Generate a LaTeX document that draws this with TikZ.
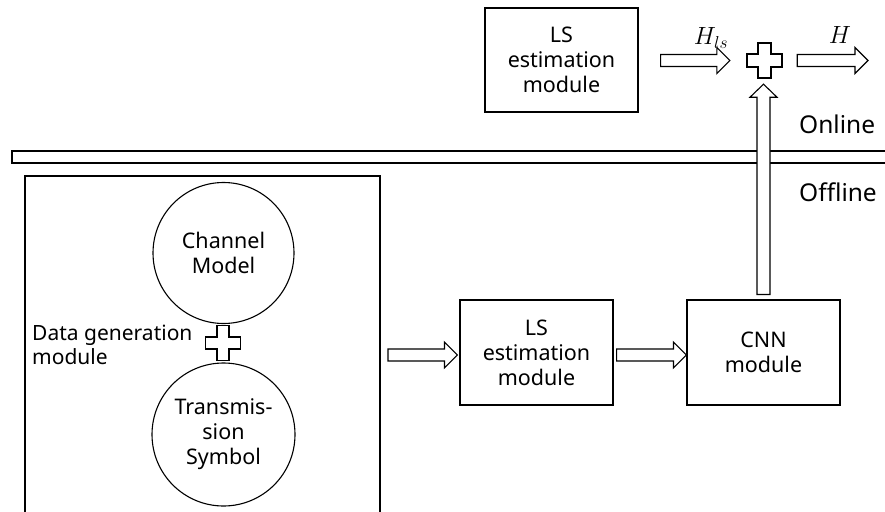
\documentclass[tikz,border=0pt]{standalone}
\usepackage{fontspec}
\setmainfont{Noto Sans}
\usetikzlibrary{calc}
\tikzset{
  box/.style={draw, line width=1.1pt, align=center, font=\fontsize{21.5}{25}\selectfont, inner sep=0pt},
  circ/.style={draw, circle, line width=1.1pt, align=center, font=\fontsize{21.5}{25}\selectfont, inner sep=0pt, minimum size=141pt},
  blk/.style={draw, line width=1.1pt, fill=white, line join=miter},
  lbl/.style={font=\fontsize{21}{24}\selectfont, inner sep=0pt},
  mlbl/.style={font=\fontsize{24}{28}\selectfont, inner sep=0pt},
  side/.style={font=\fontsize{24.5}{28}\selectfont, inner sep=0pt, anchor=base west}
}
% horizontal block arrow from #1 to #2 (y taken from #1)
\newcommand\hblock[2]{%
  \path let \p1=#1, \p2=#2 in
    [blk] (\x1,\y1-6pt) -- (\x2-13pt,\y1-6pt) -- (\x2-13pt,\y1-13pt) -- (\x2,\y1)
      -- (\x2-13pt,\y1+13pt) -- (\x2-13pt,\y1+6pt) -- (\x1,\y1+6pt) -- cycle;}
% vertical block arrow (upwards) from #1 to #2 (x taken from #1)
\newcommand\vblock[2]{%
  \path let \p1=#1, \p2=#2 in
    [blk] (\x1-6.5pt,\y1) -- (\x1-6.5pt,\y2-13pt) -- (\x1-13.5pt,\y2-13pt) -- (\x1,\y2)
      -- (\x1+13.5pt,\y2-13pt) -- (\x1+6.5pt,\y2-13pt) -- (\x1+6.5pt,\y1) -- cycle;}
% plus shape around node #1, half size #2, half arm #3
\newcommand\plusshape[3]{%
  \path let \p1=(#1.center) in
    [blk] (\x1-#3,\y1+#2) -- (\x1+#3,\y1+#2) -- (\x1+#3,\y1+#3) -- (\x1+#2,\y1+#3)
      -- (\x1+#2,\y1-#3) -- (\x1+#3,\y1-#3) -- (\x1+#3,\y1-#2) -- (\x1-#3,\y1-#2)
      -- (\x1-#3,\y1-#3) -- (\x1-#2,\y1-#3) -- (\x1-#2,\y1+#3) -- (\x1-#3,\y1+#3) -- cycle;}
\begin{document}
\begin{tikzpicture}[x=1pt,y=-1pt]
\clip (0,0) rectangle (885,511);
\fill[white] (0,0) rectangle (885,511);

% separator bar
\draw[line width=1.1pt] (12,151) rectangle (895,163);

% online part
\node[box, minimum width=153pt, minimum height=104pt] (lstop) at (561.5,60) {LS\\estimation\\module};
\node[minimum size=35pt, inner sep=0pt] (plustop) at (764.5,60.5) {};
\plusshape{plustop}{17.5pt}{6.5pt}
\coordinate (hout) at (868,60.5);

% offline part
\draw[line width=1.1pt] (25,520) -- (25,176) -- (380,176) -- (380,520);
\node[box, minimum width=153pt, minimum height=105pt] (lsbot) at (536.5,352.5) {LS\\estimation\\module};
\node[box, minimum width=153pt, minimum height=105pt] (cnn) at (763.5,352.5) {CNN\\module};
\node[circ] (chan) at (223.5,253) {Channel\\Model};
\node[circ, minimum size=143pt] (trans) at (223.5,434.5) {Transmis-\\sion\\Symbol};
\node[minimum width=34pt, minimum height=36pt, inner sep=0pt] (plusbot) at (223,343) {};
\plusshape{plusbot}{17.5pt}{6pt}
\node[lbl, anchor=west, align=left] (dgen) at (32,345) {Data generation\\module};

% connectors
\hblock{($(lstop.east)+(22,0.5)$)}{($(plustop.west)+(-17,0)$)}
\hblock{($(plustop.east)+(15,0)$)}{(hout)}
\vblock{($(cnn.north)+(0,-5)$)}{($(plustop.south)+(0,6)$)}
\coordinate (bigE) at (388,355);
\hblock{(bigE)}{($(lsbot.west)+(-2,2.5)$)}
\hblock{($(lsbot.east)+(3,2.5)$)}{($(cnn.west)+(0,2.5)$)}

% labels
\node[mlbl] (hls) at (711,38) {$H_{ls}$};
\node[mlbl] (hh) at (840,35) {$H$};
\node[side] (online) at (799,133) {Online};
\node[side] (offline) at (799,201) {Offline};
\end{tikzpicture}
\end{document}
